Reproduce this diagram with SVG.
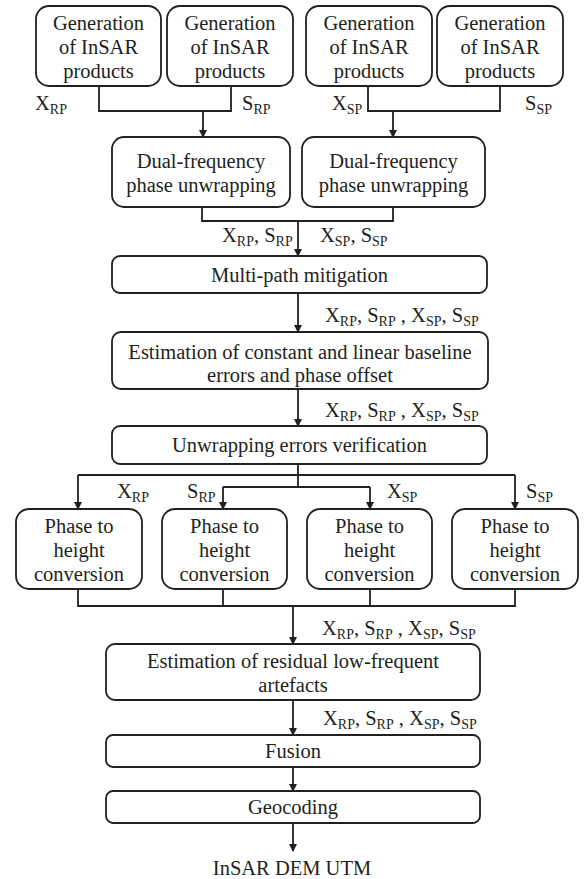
<svg xmlns="http://www.w3.org/2000/svg" width="585" height="879" viewBox="0 0 585 879">
<defs>
<marker id="ah" markerWidth="8" markerHeight="10" refX="7" refY="5" orient="auto" markerUnits="userSpaceOnUse">
<path d="M0,1 L8,5 L0,9 Z" fill="#231f20"/>
</marker>
<style>
.box{fill:#fff;stroke:#231f20;stroke-width:1.8}
.ln{fill:none;stroke:#231f20;stroke-width:1.8}
.ar{fill:none;stroke:#231f20;stroke-width:1.8;marker-end:url(#ah)}
text{font-family:'Liberation Serif','Tinos','DejaVu Serif','Noto Serif','Times New Roman',serif;font-size:20.5px;fill:#231f20}
.c{text-anchor:middle}
.s{font-size:14px}
</style>
</defs>
<rect width="585" height="879" fill="#fff"/>
<g id="connectors">
<path class="ln" d="M99,86 V111 H231 V86"/>
<path class="ar" d="M203,111 V137"/>
<path class="ln" d="M368,86 V111 H500 V86"/>
<path class="ar" d="M393,111 V137"/>
<path class="ln" d="M202,207 V221 H393 V207"/>
<path class="ar" d="M298,221 V256"/>
<path class="ar" d="M298,293 V332"/>
<path class="ar" d="M298,389 V426"/>
<path class="ln" d="M298,464 V487"/>
<path class="ln" d="M78,475 H515"/>
<path class="ln" d="M223,487 H370"/>
<path class="ar" d="M78,475 V509"/>
<path class="ar" d="M223,487 V509"/>
<path class="ar" d="M370,487 V509"/>
<path class="ar" d="M515,475 V509"/>
<path class="ln" d="M78,589 V606 H515 V589"/>
<path class="ln" d="M223,589 V606 M370,589 V606"/>
<path class="ar" d="M293,606 V644"/>
<path class="ar" d="M293,700 V735"/>
<path class="ar" d="M293,767 V791"/>
<path class="ar" d="M293,823 V851"/>
</g>
<g id="gen1"><rect class="box" x="36" y="6" width="125" height="80" rx="13"/>
<text class="c" x="98.5" y="30">Generation</text><text class="c" x="98.5" y="54">of InSAR</text><text class="c" x="98.5" y="78">products</text></g>
<g id="gen2"><rect class="box" x="167" y="6" width="126" height="80" rx="13"/>
<text class="c" x="230" y="30">Generation</text><text class="c" x="230" y="54">of InSAR</text><text class="c" x="230" y="78">products</text></g>
<g id="gen3"><rect class="box" x="306" y="6" width="126" height="80" rx="13"/>
<text class="c" x="369" y="30">Generation</text><text class="c" x="369" y="54">of InSAR</text><text class="c" x="369" y="78">products</text></g>
<g id="gen4"><rect class="box" x="437" y="6" width="126" height="80" rx="13"/>
<text class="c" x="500" y="30">Generation</text><text class="c" x="500" y="54">of InSAR</text><text class="c" x="500" y="78">products</text></g>
<g id="dual1"><rect class="box" x="112" y="137" width="178" height="70" rx="12"/>
<text class="c" x="201" y="168">Dual-frequency</text><text class="c" x="201" y="192">phase unwrapping</text></g>
<g id="dual2"><rect class="box" x="302" y="137" width="183" height="70" rx="12"/>
<text class="c" x="393.5" y="168">Dual-frequency</text><text class="c" x="393.5" y="192">phase unwrapping</text></g>
<g id="multipath"><rect class="box" x="112" y="256" width="375" height="37" rx="8"/>
<text class="c" x="299.5" y="282">Multi-path mitigation</text></g>
<g id="baseline"><rect class="box" x="112" y="332" width="376" height="57" rx="9"/>
<text class="c" x="300" y="359">Estimation of constant and linear baseline</text><text class="c" x="300" y="382">errors and phase offset</text></g>
<g id="unwrapverif"><rect class="box" x="112" y="426" width="375" height="38" rx="8"/>
<text class="c" x="299.5" y="452">Unwrapping errors verification</text></g>
<g id="p2h1"><rect class="box" x="16" y="509" width="126" height="80" rx="13"/>
<text class="c" x="79" y="533">Phase to</text><text class="c" x="79" y="557">height</text><text class="c" x="79" y="581">conversion</text></g>
<g id="p2h2"><rect class="box" x="162" y="509" width="125" height="80" rx="13"/>
<text class="c" x="224.5" y="533">Phase to</text><text class="c" x="224.5" y="557">height</text><text class="c" x="224.5" y="581">conversion</text></g>
<g id="p2h3"><rect class="box" x="307" y="509" width="125" height="80" rx="13"/>
<text class="c" x="369.5" y="533">Phase to</text><text class="c" x="369.5" y="557">height</text><text class="c" x="369.5" y="581">conversion</text></g>
<g id="p2h4"><rect class="box" x="452" y="509" width="126" height="80" rx="13"/>
<text class="c" x="515" y="533">Phase to</text><text class="c" x="515" y="557">height</text><text class="c" x="515" y="581">conversion</text></g>
<g id="residual"><rect class="box" x="106" y="644" width="374" height="56" rx="9"/>
<text class="c" x="293" y="668">Estimation of residual low-frequent</text><text class="c" x="293" y="692">artefacts</text></g>
<g id="fusion"><rect class="box" x="106" y="735" width="374" height="32" rx="7"/>
<text class="c" x="293" y="758">Fusion</text></g>
<g id="geocoding"><rect class="box" x="106" y="791" width="374" height="32" rx="7"/>
<text class="c" x="293" y="814">Geocoding</text></g>
<g id="output"><text class="c" x="292" y="875">InSAR DEM UTM</text></g>
<g id="labels">
<text x="35" y="110">X<tspan class="s" dy="4">RP</tspan></text>
<text x="242" y="110">S<tspan class="s" dy="4">RP</tspan></text>
<text x="332" y="110">X<tspan class="s" dy="4">SP</tspan></text>
<text x="525" y="110">S<tspan class="s" dy="4">SP</tspan></text>
<text x="222" y="242">X<tspan class="s" dy="4">RP</tspan><tspan dy="-4">, S</tspan><tspan class="s" dy="4">RP</tspan></text>
<text x="320" y="242">X<tspan class="s" dy="4">SP</tspan><tspan dy="-4">, S</tspan><tspan class="s" dy="4">SP</tspan></text>
<text x="325" y="322">X<tspan class="s" dy="4">RP</tspan><tspan dy="-4">, S</tspan><tspan class="s" dy="4">RP</tspan><tspan dy="-4"> , X</tspan><tspan class="s" dy="4">SP</tspan><tspan dy="-4">, S</tspan><tspan class="s" dy="4">SP</tspan></text>
<text x="325" y="417">X<tspan class="s" dy="4">RP</tspan><tspan dy="-4">, S</tspan><tspan class="s" dy="4">RP</tspan><tspan dy="-4"> , X</tspan><tspan class="s" dy="4">SP</tspan><tspan dy="-4">, S</tspan><tspan class="s" dy="4">SP</tspan></text>
<text x="117" y="498">X<tspan class="s" dy="4">RP</tspan></text>
<text x="187" y="498">S<tspan class="s" dy="4">RP</tspan></text>
<text x="387" y="498">X<tspan class="s" dy="4">SP</tspan></text>
<text x="526" y="498">S<tspan class="s" dy="4">SP</tspan></text>
<text x="322" y="635">X<tspan class="s" dy="4">RP</tspan><tspan dy="-4">, S</tspan><tspan class="s" dy="4">RP</tspan><tspan dy="-4"> , X</tspan><tspan class="s" dy="4">SP</tspan><tspan dy="-4">, S</tspan><tspan class="s" dy="4">SP</tspan></text>
<text x="323" y="725">X<tspan class="s" dy="4">RP</tspan><tspan dy="-4">, S</tspan><tspan class="s" dy="4">RP</tspan><tspan dy="-4"> , X</tspan><tspan class="s" dy="4">SP</tspan><tspan dy="-4">, S</tspan><tspan class="s" dy="4">SP</tspan></text>
</g>
</svg>
